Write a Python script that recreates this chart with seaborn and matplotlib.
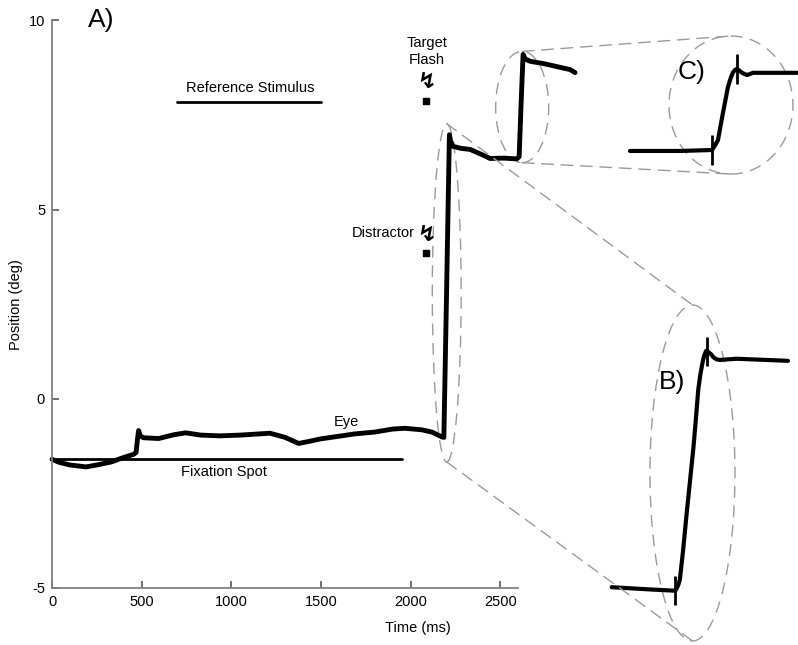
import numpy as np
import pandas as pd
import matplotlib
matplotlib.use("Agg")
import matplotlib.pyplot as plt
from matplotlib.patches import Ellipse, ConnectionPatch
import seaborn as sns

# eye trace (time in ms, position in deg)
eye_ms = [0, 40, 100, 190, 260, 330, 400, 454, 469, 476, 483, 492, 510, 595, 680, 746,
          830, 934, 1050, 1216, 1300, 1376, 1440, 1498, 1600, 1686, 1800, 1900, 1969,
          2063, 2120, 2176, 2186, 2200, 2212, 2217, 2224, 2238, 2280, 2332, 2400, 2444,
          2520, 2593, 2606, 2617, 2628, 2640, 2667, 2750, 2890, 2918]
eye_deg = [-1.60, -1.68, -1.75, -1.80, -1.74, -1.67, -1.55, -1.47, -1.42, -1.10, -0.84,
           -0.98, -1.03, -1.05, -0.95, -0.90, -0.96, -0.98, -0.96, -0.91, -1.02, -1.18,
           -1.12, -1.06, -0.99, -0.93, -0.88, -0.80, -0.78, -0.82, -0.88, -1.01, -1.02,
           2.50, 5.70, 6.98, 6.80, 6.67, 6.62, 6.59, 6.45, 6.35, 6.36, 6.34, 6.40, 7.80,
           9.10, 8.98, 8.92, 8.85, 8.70, 8.62]

# stimuli
fix_ms = [0, 1950]
fix_deg = [-1.6, -1.6]
ref_ms = [700, 1500]
ref_deg = [7.85, 7.85]
flash_ms = [2087, 2087]
flash_deg = [7.88, 3.84]
flash_names = ["Target\nFlash", "Distractor"]

# zoomed saccades
sacc1_ms = [2064, 2131, 2185, 2188, 2191, 2194, 2200, 2207, 2214, 2220, 2225, 2229, 2233,
            2237, 2240, 2244, 2248, 2253, 2258, 2264, 2270, 2302, 2400]
sacc1_deg = [-0.88, -0.95, -1.00, -0.92, -0.80, -0.62, 0.35, 1.64, 2.85, 3.90, 4.95, 5.83,
             6.35, 6.74, 6.98, 7.16, 7.12, 7.05, 6.94, 6.87, 6.85, 6.89, 6.82]
sacc1_marks = [2185, 2246]
sacc2_ms = [2524, 2574, 2606, 2609, 2612, 2617, 2622, 2625, 2627, 2629, 2631, 2633, 2636,
            2641, 2647, 2691]
sacc2_deg = [6.35, 6.35, 6.38, 6.52, 6.69, 7.54, 8.35, 8.65, 8.80, 8.88, 8.91, 8.87, 8.79,
             8.72, 8.79, 8.79]
sacc2_marks = [2606, 2631]

sns.set_theme(style="white", rc={'text.color': 'black', 'axes.labelcolor': 'black',
                                 'xtick.color': 'black', 'ytick.color': 'black'})
plt.rcParams['font.family'] = ['Liberation Sans', 'DejaVu Sans']
plt.rcParams['axes.unicode_minus'] = False

fig = plt.figure(figsize=(7.98, 6.45), dpi=100)
ax = fig.add_axes([0.0652, 0.0884, 0.584, 0.88])

dash = (0, (8.5, 5.5))
gray = '#9a9a9a'

sns.lineplot(x=eye_ms, y=eye_deg, ax=ax, color='black', lw=3.5, sort=False,
             estimator=None, solid_capstyle='round')
ax.plot(fix_ms, fix_deg, color='black', lw=2)
ax.plot(ref_ms, ref_deg, color='black', lw=2)
ax.scatter(flash_ms, flash_deg, marker='s', s=14, color='black', zorder=5)
for t, y in zip(flash_ms, flash_deg):
    ax.text(t, y + 0.5, "\u21af", ha='center', va='center', fontsize=16,
            fontweight='bold', family=['DejaVu Sans'])
for line in ax.lines:
    line.set_clip_on(False)

ax.text(t + 6, flash_deg[0] + 1.3, flash_names[0], ha='center', va='center',
        fontsize=10.5, linespacing=1.2)
ax.text(2026, flash_deg[1] + 0.55, flash_names[1], ha='right', va='center', fontsize=10.5)
ax.text(1105, 8.2, "Reference Stimulus", ha='center', va='center', fontsize=10.5)
ax.text(960, -1.93, "Fixation Spot", ha='center', va='center', fontsize=10.5)
ax.text(1643, -0.61, "Eye", ha='center', va='center', fontsize=10.5)
ax.text(273, 10.0, "A)", ha='center', va='center', fontsize=19)

ax.set_xlim(0, 2600)
ax.set_ylim(-5, 10)
ax.set_xticks([0, 500, 1000, 1500, 2000, 2500])
ax.set_yticks([-5, 0, 5, 10])
ax.set_xlabel("Time (ms)", fontsize=10.5)
ax.set_ylabel("Position (deg)", fontsize=10.5)
ax.xaxis.set_label_coords(0.785, -0.058)
sns.despine(ax=ax)
for s in ['left', 'bottom']:
    ax.spines[s].set_color('0.5')
    ax.spines[s].set_linewidth(1.3)
ax.tick_params(direction='in', length=5, width=1.2, color='0.35', labelsize=10.5,
               labelcolor='black', pad=5, bottom=True, left=True)

# ellipses around the saccades in the main plot
ell1 = dict(xy=(2202, 2.80), width=161, height=8.94)
ell2 = dict(xy=(2623, 7.71), width=296, height=2.94)
for e in (ell1, ell2):
    ax.add_patch(Ellipse(e['xy'], e['width'], e['height'], fill=False, ec=gray,
                         lw=1, ls=dash, clip_on=False))

# inset B
axB = fig.add_axes([0.8145, 0.0062, 0.1065, 0.521])
axB.plot(sacc1_ms, sacc1_deg, color='black', lw=3, clip_on=False, solid_capstyle='round')
m1 = np.interp(sacc1_marks, sacc1_ms, sacc1_deg)
axB.vlines(sacc1_marks, m1 - 0.5, m1 + 0.5, color='black', lw=2, clip_on=False)
axB.set_xlim(2137, 2299)
axB.set_ylim(-2.71, 8.72)
axB.text(0.26, 0.77, "B)", transform=axB.transAxes, ha='center', va='center', fontsize=19)

# inset C
axC = fig.add_axes([0.8383, 0.7302, 0.1554, 0.214])
axC.plot(sacc2_ms, sacc2_deg, color='black', lw=3, clip_on=False, solid_capstyle='round')
m2 = np.interp(sacc2_marks, sacc2_ms, sacc2_deg)
axC.vlines(sacc2_marks, m2 - 0.46, m2 + 0.46, color='black', lw=2, clip_on=False)
axC.set_xlim(2563, 2687)
axC.set_ylim(5.63, 9.94)
axC.text(0.185, 0.74, "C)", transform=axC.transAxes, ha='center', va='center', fontsize=19)

for a, e in ((axB, ell1), (axC, ell2)):
    a.axis('off')
    a.add_patch(Ellipse((0.5, 0.5), 1, 1, transform=a.transAxes, fill=False, ec=gray,
                        lw=1, ls=dash, clip_on=False))
    cx, cy = e['xy']
    for side, dy in ((1, e['height'] / 2), (0, -e['height'] / 2)):
        con = ConnectionPatch(xyA=(cx, cy + dy), coordsA=ax.transData,
                              xyB=(0.5, side), coordsB=a.transAxes,
                              color=gray, lw=1, ls=dash)
        fig.add_artist(con)

fig.savefig("out.png", dpi=100)
